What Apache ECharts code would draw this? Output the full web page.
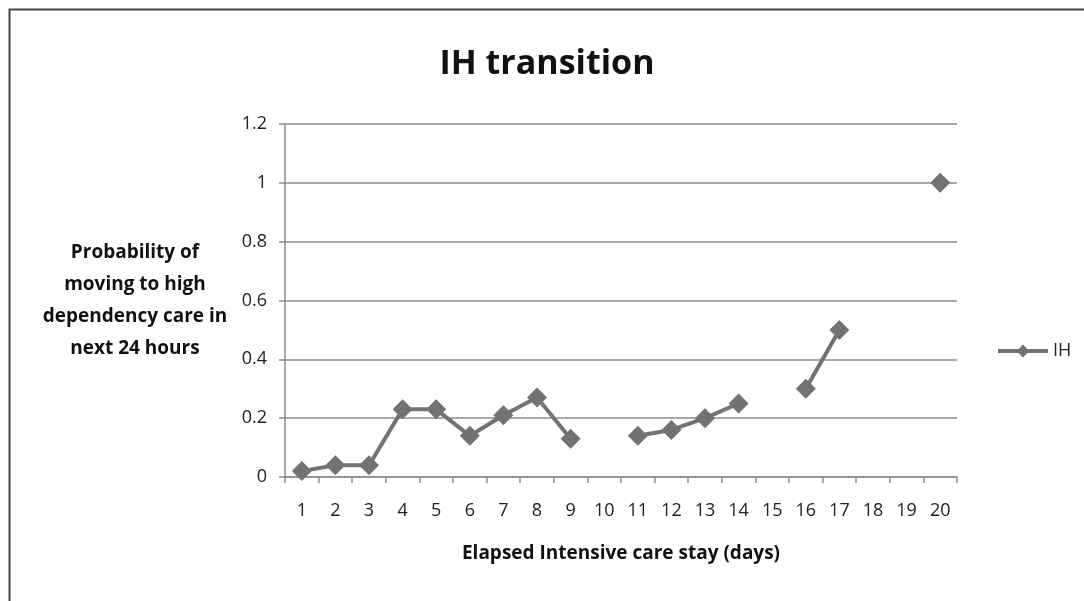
<!DOCTYPE html>
<html>
<head>
<meta charset="utf-8">
<script src="https://cdn.jsdelivr.net/npm/echarts@6/dist/echarts.min.js"></script>
<style>
  html, body { margin: 0; padding: 0; background: #fff; }
  #chart { width: 1084px; height: 601px; }
</style>
</head>
<body>
<div id="chart"></div>
<script>
// Elapsed days in intensive care (x categories)
const days = ['1','2','3','4','5','6','7','8','9','10','11','12','13','14','15','16','17','18','19','20'];
// Probability of moving to high dependency care in next 24 hours (null = no estimate)
const ihValues = [0.02, 0.04, 0.04, 0.23, 0.23, 0.14, 0.21, 0.27, 0.13, null,
                  0.14, 0.16, 0.20, 0.25, null, 0.30, 0.50, null, null, 1.0];
const yTicks = { min: 0, max: 1.2, interval: 0.2 };

const FONT = '"Open Sans", "Noto Sans", sans-serif';
const GRID_COLOR = '#8c8c8c';
const LINE_COLOR = '#727272';

const chart = echarts.init(document.getElementById('chart'));
chart.setOption({
  backgroundColor: '#ffffff',
  animation: false,
  title: {
    text: 'IH transition',
    left: 542,
    top: 42,
    textAlign: 'center',
    textStyle: { fontFamily: FONT, fontSize: 34, fontWeight: 'bold', color: '#111' }
  },
  legend: {
    data: ['IH'],
    left: 991,
    top: 337,
    itemWidth: 50,
    itemHeight: 16,
    itemGap: 4,
    lineStyle: { width: 4 },
    textStyle: { fontFamily: FONT, fontSize: 18, color: '#222' }
  },
  grid: { left: 285, right: 127, top: 124, bottom: 124 },
  xAxis: {
    type: 'category',
    data: days,
    boundaryGap: true,
    name: 'Elapsed Intensive care stay (days)',
    nameLocation: 'middle',
    nameGap: 67,
    nameTextStyle: { fontFamily: FONT, fontSize: 19, fontWeight: 'bold', color: '#111' },
    axisLine: { lineStyle: { color: GRID_COLOR, width: 1.5 } },
    axisTick: { show: true, alignWithLabel: false, length: 6, lineStyle: { color: GRID_COLOR, width: 1.5 } },
    axisLabel: { fontFamily: FONT, fontSize: 18, color: '#222', margin: 25, interval: 0 }
  },
  yAxis: {
    type: 'value',
    min: yTicks.min,
    max: yTicks.max,
    interval: yTicks.interval,
    axisLine: { show: true, lineStyle: { color: GRID_COLOR, width: 1.5 } },
    axisTick: { show: true, length: 6, lineStyle: { color: GRID_COLOR, width: 1.5 } },
    axisLabel: {
      fontFamily: FONT, fontSize: 18, color: '#222', margin: 18,
      formatter: v => String(Math.round(v * 10) / 10)
    },
    splitLine: { lineStyle: { color: GRID_COLOR, width: 1.5 } }
  },
  graphic: [
    {
      type: 'rect',
      left: 7, top: 7,
      shape: { width: 1100, height: 620 },
      style: { fill: 'none', stroke: '#444', lineWidth: 2 },
      silent: true
    },
    {
      type: 'text',
      x: 135, y: 237,
      style: {
        text: 'Probability of\nmoving to high\ndependency care in\nnext 24 hours',
        fontFamily: FONT, fontSize: 19, fontWeight: 'bold',
        fill: '#111', align: 'center', verticalAlign: 'top', lineHeight: 32
      }
    }
  ],
  series: [{
    name: 'IH',
    type: 'line',
    data: ihValues,
    connectNulls: false,
    showAllSymbol: true,
    symbol: 'diamond',
    symbolSize: 20,
    lineStyle: { color: LINE_COLOR, width: 4 },
    itemStyle: { color: LINE_COLOR }
  }]
});
</script>
</body>
</html>
